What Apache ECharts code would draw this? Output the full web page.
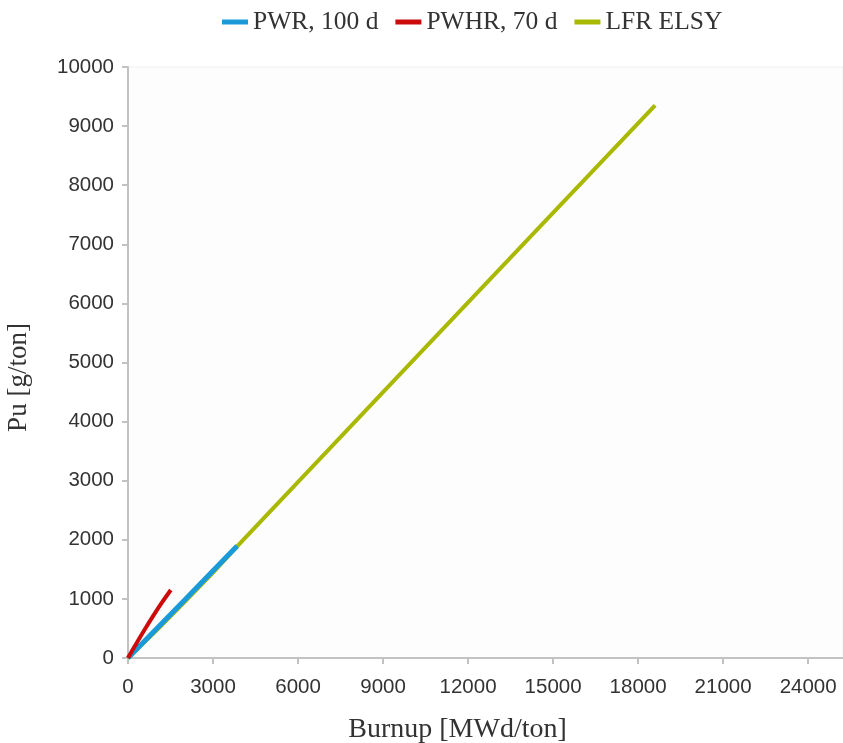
<!DOCTYPE html>
<html>
<head>
<meta charset="utf-8">
<script src="https://cdn.jsdelivr.net/npm/echarts@6/dist/echarts.min.js"></script>
<style>
  html, body { margin: 0; padding: 0; background: #ffffff; }
  #chart { width: 843px; height: 743px; }
</style>
</head>
<body>
<div id="chart"></div>
<script>
// Plutonium build-up versus burnup for three reactor concepts
const seriesNames = ['PWR, 100 d', 'PWHR, 70 d', 'LFR ELSY'];

// [burnup MWd/ton, Pu g/ton]
const pwrData = [[0, 0], [500, 245], [1000, 490], [2000, 980], [3000, 1475], [3850, 1895]];
const pwhrData = [[0, 0], [300, 250], [600, 490], [900, 720], [1200, 940], [1510, 1150]];
const lfrData = [[0, 0], [1000, 465], [2000, 950], [3000, 1445], [3850, 1890], [9000, 4500], [14000, 7030], [18600, 9350]];

const xTicks = [0, 3000, 6000, 9000, 12000, 15000, 18000, 21000, 24000];
const yTicks = [0, 1000, 2000, 3000, 4000, 5000, 6000, 7000, 8000, 9000, 10000];

const colors = ['#1a9ad9', '#cc0a0a', '#a9b800'];
const widths = [5, 4, 4];

const chart = echarts.init(document.getElementById('chart'), null, { renderer: 'canvas' });

const axisLine = { show: true, lineStyle: { color: '#c2c2c2', width: 2 } };
const labelStyle = { color: '#333333', fontFamily: 'Liberation Sans', fontSize: 20.5, formatter: v => String(v) };
const nameStyle = { color: '#333333', fontFamily: 'Liberation Serif', fontSize: 27 };

function lineSeries(idx, data, extra) {
  return Object.assign({
    name: seriesNames[idx], type: 'line', data: data, showSymbol: false,
    itemStyle: { color: colors[idx] },
    lineStyle: { width: widths[idx], color: colors[idx] }
  }, extra);
}

chart.setOption({
  animation: false,
  legend: {
    top: 4,
    left: 217,
    itemWidth: 26,
    itemHeight: 5,
    itemGap: 17,
    icon: 'rect',
    textStyle: { color: '#333333', fontFamily: 'Liberation Serif', fontSize: 25.5 },
    data: seriesNames
  },
  grid: {
    left: 128, right: 0, top: 67, bottom: 85,
    outerBoundsMode: 'none',
    containLabel: false,
    show: true,
    backgroundColor: '#fdfdfd',
    borderColor: '#f0f0f0',
    borderWidth: 1
  },
  xAxis: {
    type: 'value',
    min: 0,
    max: 25230,
    interval: 3000,
    name: 'Burnup [MWd/ton]',
    nameLocation: 'middle',
    nameGap: 58,
    nameTextStyle: Object.assign({}, nameStyle, { fontSize: 28, padding: [0, 56, 0, 0] }),
    axisLine: axisLine,
    axisTick: { show: true, length: 6, lineStyle: { color: '#c2c2c2', width: 2 }, customValues: xTicks },
    axisLabel: Object.assign({}, labelStyle, { margin: 19, customValues: xTicks }),
    splitLine: { show: false }
  },
  yAxis: {
    type: 'value',
    min: 0,
    max: 10000,
    interval: 1000,
    name: 'Pu [g/ton]',
    nameLocation: 'middle',
    nameGap: 96,
    nameRotate: 90,
    nameTextStyle: Object.assign({}, nameStyle, { padding: [0, 30, 0, 0] }),
    axisLine: axisLine,
    axisTick: { show: true, length: 6, lineStyle: { color: '#c2c2c2', width: 2 } },
    axisLabel: Object.assign({}, labelStyle, { margin: 14, customValues: yTicks }),
    splitLine: { show: false }
  },
  series: [
    lineSeries(0, pwrData, { z: 3 }),
    lineSeries(1, pwhrData, { smooth: 0.3, z: 4 }),
    lineSeries(2, lfrData, { z: 2 })
  ]
});
</script>
</body>
</html>
